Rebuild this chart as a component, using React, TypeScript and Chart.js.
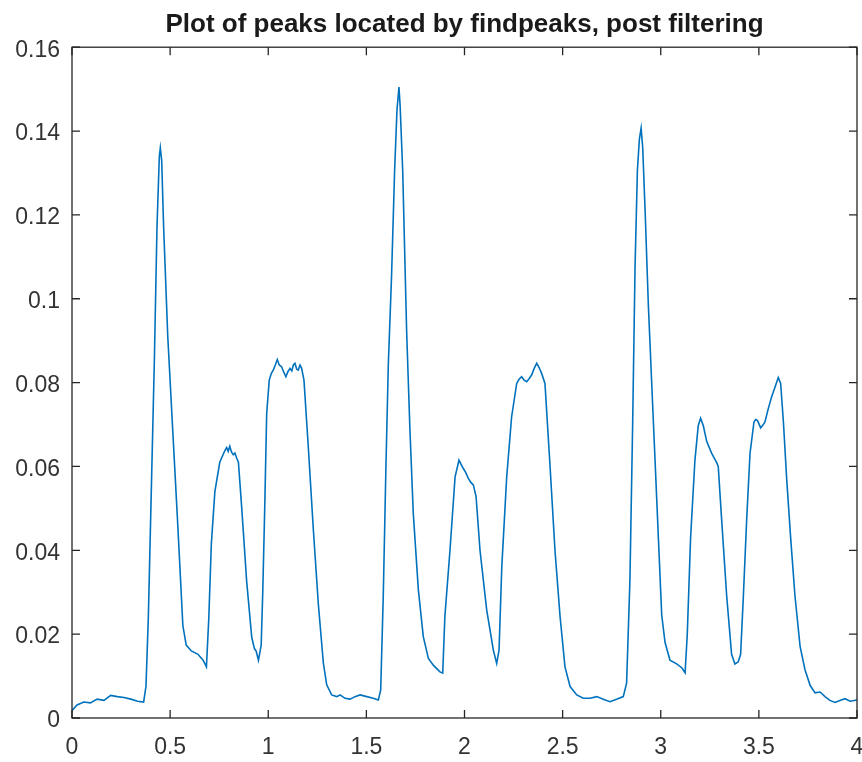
import React, { useEffect, useRef } from "react";
import { Chart, registerables } from "chart.js";

Chart.register(...registerables);

const TITLE = "Plot of peaks located by findpeaks, post filtering";

const X_VALUES = [
  0, 0.026, 0.06, 0.094, 0.128, 0.163, 0.197, 0.231, 0.265, 0.3, 0.334, 0.365,
  0.377, 0.389, 0.402, 0.42, 0.433, 0.445, 0.45, 0.457, 0.467, 0.488, 0.514,
  0.539, 0.565, 0.582, 0.608, 0.642, 0.668, 0.685, 0.697, 0.71, 0.728, 0.753,
  0.779, 0.788, 0.796, 0.804, 0.813, 0.822, 0.83, 0.839, 0.848, 0.865, 0.89,
  0.916, 0.93, 0.938, 0.95, 0.964, 0.972, 0.982, 0.992, 1.005, 1.016, 1.026,
  1.036, 1.046, 1.056, 1.068, 1.078, 1.09, 1.1, 1.111, 1.12, 1.128, 1.136,
  1.145, 1.153, 1.162, 1.17, 1.182, 1.204, 1.23, 1.255, 1.281, 1.298, 1.323,
  1.349, 1.366, 1.391, 1.417, 1.442, 1.468, 1.502, 1.535, 1.561, 1.573, 1.586,
  1.6, 1.612, 1.628, 1.644, 1.656, 1.666, 1.672, 1.685, 1.705, 1.722, 1.739,
  1.765, 1.79, 1.816, 1.841, 1.875, 1.889, 1.9, 1.926, 1.952, 1.972, 1.984,
  1.994, 2.006, 2.019, 2.032, 2.045, 2.059, 2.079, 2.113, 2.147, 2.164, 2.176,
  2.19, 2.215, 2.24, 2.266, 2.278, 2.291, 2.304, 2.317, 2.33, 2.342, 2.355,
  2.368, 2.38, 2.393, 2.41, 2.436, 2.461, 2.487, 2.512, 2.538, 2.572, 2.605,
  2.64, 2.674, 2.707, 2.741, 2.775, 2.809, 2.826, 2.843, 2.857, 2.869, 2.881,
  2.891, 2.9, 2.908, 2.92, 2.937, 2.954, 2.971, 2.988, 3.005, 3.022, 3.047,
  3.081, 3.107, 3.124, 3.135, 3.152, 3.174, 3.191, 3.203, 3.217, 3.234, 3.259,
  3.285, 3.293, 3.31, 3.336, 3.361, 3.378, 3.395, 3.407, 3.421, 3.438, 3.455,
  3.475, 3.484, 3.492, 3.5, 3.509, 3.52, 3.531, 3.548, 3.565, 3.582, 3.599,
  3.611, 3.625, 3.642, 3.662, 3.684, 3.71, 3.735, 3.761, 3.786, 3.812, 3.837,
  3.862, 3.888, 3.913, 3.939, 3.965, 4.0,
];

const Y_VALUES = [
  0.0018, 0.0031, 0.0038, 0.0036, 0.0045, 0.0042, 0.0054, 0.0051, 0.0049,
  0.0045, 0.004, 0.0038, 0.0076, 0.024, 0.05, 0.086, 0.117, 0.134, 0.136,
  0.133, 0.117, 0.091, 0.068, 0.046, 0.022, 0.0174, 0.016, 0.0152, 0.0138,
  0.0122, 0.0237, 0.0415, 0.054, 0.061, 0.0638, 0.0645, 0.0636, 0.0648,
  0.0634, 0.0628, 0.0632, 0.062, 0.061, 0.05, 0.0326, 0.0192, 0.0165, 0.016,
  0.0138, 0.0174, 0.03, 0.05, 0.0726, 0.0806, 0.0822, 0.083, 0.0842, 0.0855,
  0.0842, 0.0838, 0.0826, 0.0814, 0.0826, 0.0834, 0.0828, 0.0842, 0.0846,
  0.0832, 0.083, 0.0842, 0.0834, 0.0806, 0.0647, 0.0448, 0.0273, 0.013, 0.0079,
  0.0055, 0.0051, 0.0055, 0.0047, 0.0045, 0.0051, 0.0055, 0.0051, 0.0047,
  0.0043, 0.0067, 0.029, 0.0607, 0.0846, 0.105, 0.1307, 0.145, 0.1505, 0.146,
  0.1307, 0.0925, 0.0687, 0.0488, 0.0305, 0.0194, 0.0142, 0.0126, 0.011,
  0.0107, 0.0242, 0.04, 0.0575, 0.0615, 0.0604, 0.0595, 0.0586, 0.0572,
  0.0562, 0.0556, 0.0528, 0.04, 0.0258, 0.0162, 0.013, 0.0162, 0.036, 0.0575,
  0.0718, 0.0798, 0.0808, 0.0814, 0.0806, 0.0802, 0.081, 0.0818, 0.0834,
  0.0846, 0.0836, 0.0822, 0.0798, 0.06, 0.04, 0.0242, 0.0122, 0.0075, 0.0055,
  0.0047, 0.0047, 0.0051, 0.0045, 0.0039, 0.0045, 0.0051, 0.0083, 0.033,
  0.0706, 0.1075, 0.1306, 0.138, 0.1407, 0.1361, 0.1214, 0.0983, 0.0798,
  0.0614, 0.0429, 0.0245, 0.018, 0.0138, 0.0129, 0.012, 0.0108, 0.0198, 0.0429,
  0.0614, 0.0697, 0.0715, 0.0697, 0.066, 0.0632, 0.0609, 0.06, 0.0475, 0.0291,
  0.0152, 0.0129, 0.0134, 0.0152, 0.0291, 0.0475, 0.0632, 0.0706, 0.0712,
  0.071, 0.0702, 0.0692, 0.0698, 0.0706, 0.0738, 0.0766, 0.0789, 0.0812,
  0.0798, 0.0706, 0.0568, 0.0429, 0.0291, 0.0171, 0.0115, 0.0078, 0.006,
  0.0062, 0.0051, 0.0042, 0.0037, 0.0042, 0.0046, 0.004, 0.0043,
];

const X_TICKS = [0, 0.5, 1, 1.5, 2, 2.5, 3, 3.5, 4];
const X_TICK_LABELS = ["0", "0.5", "1", "1.5", "2", "2.5", "3", "3.5", "4"];
const Y_TICKS = [0, 0.02, 0.04, 0.06, 0.08, 0.1, 0.12, 0.14, 0.16];
const Y_TICK_LABELS = ["0", "0.02", "0.04", "0.06", "0.08", "0.1", "0.12", "0.14", "0.16"];

const FONT = "'Liberation Sans', Arial, Helvetica, sans-serif";
const AXIS_COLOR = "#262626";
const LABEL_COLOR = "#333333";
const LINE_COLOR = "#0072BD";

const framePlugin = {
  id: "matlabFrame",
  afterDraw(chart: any) {
    const { ctx, chartArea } = chart;
    const { left, right, top, bottom } = chartArea;
    const xs = chart.scales.x;
    const ys = chart.scales.y;
    const tl = 8;
    ctx.save();
    ctx.strokeStyle = AXIS_COLOR;
    ctx.lineWidth = 1.3;
    ctx.strokeRect(left, top, right - left, bottom - top);
    ctx.beginPath();
    X_TICKS.forEach((v) => {
      const px = xs.getPixelForValue(v);
      ctx.moveTo(px, bottom);
      ctx.lineTo(px, bottom - tl);
      ctx.moveTo(px, top);
      ctx.lineTo(px, top + tl);
    });
    Y_TICKS.forEach((v) => {
      const py = ys.getPixelForValue(v);
      ctx.moveTo(left, py);
      ctx.lineTo(left + tl, py);
      ctx.moveTo(right, py);
      ctx.lineTo(right - tl, py);
    });
    ctx.stroke();
    ctx.restore();
  },
};

export default function App() {
  const ref = useRef<HTMLCanvasElement | null>(null);

  useEffect(() => {
    if (!ref.current) return;
    const points = X_VALUES.map((x, i) => ({ x, y: Y_VALUES[i] }));
    const chart = new Chart(ref.current, {
      type: "line",
      data: {
        datasets: [
          {
            data: points,
            borderColor: LINE_COLOR,
            borderWidth: 1.6,
            pointRadius: 0,
            tension: 0,
            fill: false,
          },
        ],
      },
      options: {
        animation: false,
        responsive: false,
        devicePixelRatio: 1,
        layout: { padding: { left: 0, right: 5, top: 0, bottom: 0 } },
        plugins: {
          legend: { display: false },
          tooltip: { enabled: false },
          title: {
            display: true,
            text: TITLE,
            fullSize: false,
            color: "#1a1a1a",
            font: { family: FONT, size: 26, weight: "bold" },
            padding: { top: 9, bottom: 7 },
          },
        },
        scales: {
          x: {
            type: "linear",
            min: 0,
            max: 4,
            afterBuildTicks: (s: any) => {
              s.ticks = X_TICKS.map((v) => ({ value: v }));
            },
            afterFit: (s: any) => {
              s.height = 44;
              s.paddingLeft = 0;
              s.paddingRight = 0;
            },
            grid: { display: false },
            border: { display: false },
            ticks: {
              autoSkip: false,
              maxRotation: 0,
              padding: 8,
              color: LABEL_COLOR,
              font: { family: FONT, size: 23 },
              callback: (v: any) => {
                const i = X_TICKS.indexOf(Number(v));
                return i >= 0 ? X_TICK_LABELS[i] : "";
              },
            },
          },
          y: {
            type: "linear",
            min: 0,
            max: 0.16,
            afterBuildTicks: (s: any) => {
              s.ticks = Y_TICKS.map((v) => ({ value: v }));
            },
            afterFit: (s: any) => {
              s.width = 72;
            },
            grid: { display: false },
            border: { display: false },
            ticks: {
              autoSkip: false,
              padding: 4,
              labelOffset: 3,
              color: LABEL_COLOR,
              font: { family: FONT, size: 23 },
              callback: (v: any) => {
                const i = Y_TICKS.findIndex((t) => Math.abs(t - Number(v)) < 1e-9);
                return i >= 0 ? Y_TICK_LABELS[i] : "";
              },
            },
          },
        },
      },
      plugins: [framePlugin],
    });
    return () => chart.destroy();
  }, []);

  return (
    <div
      style={{
        position: "fixed",
        left: 0,
        top: 0,
        width: 862,
        height: 762,
        background: "#ffffff",
      }}
    >
      <canvas ref={ref} width={862} height={762} style={{ display: "block" }} />
    </div>
  );
}
